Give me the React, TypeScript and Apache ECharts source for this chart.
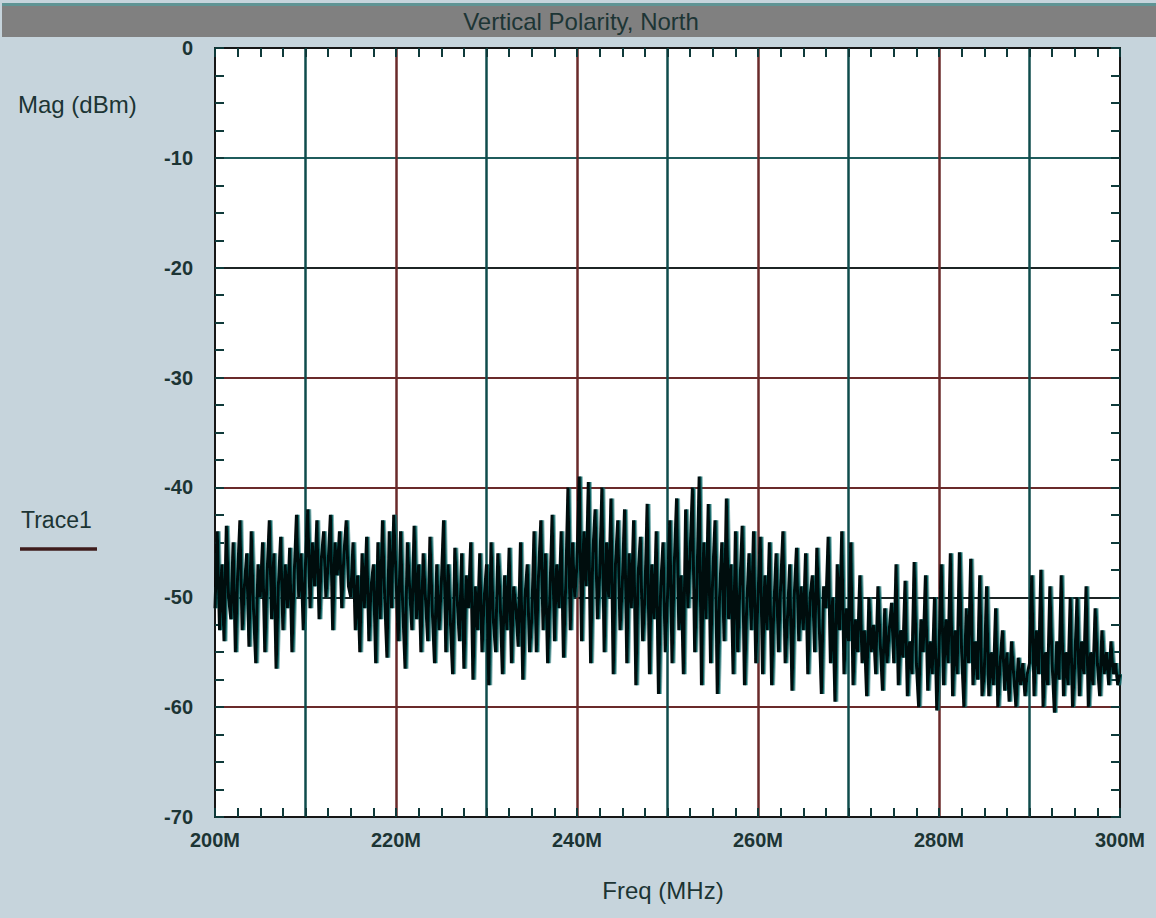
import React, { useEffect, useRef } from "react";
import * as echarts from "echarts";

const TITLE = "Vertical Polarity, North";
const Y_NAME = "Mag (dBm)";
const X_NAME = "Freq (MHz)";
const LEGEND_NAME = "Trace1";

// sweep: 200 MHz to 300 MHz, 0.25 MHz per sample
const SWEEP_START_MHZ = 200;
const SWEEP_STEP_MHZ = 0.25;

const trace1Dbm: number[] = [
  // 200-205
  -51, -44, -53, -47, -54, -43.5, -50, -52, -45, -55, -48, -43, -53, -49, -46, -54.5, -44, -51, -56, -47,
  // 205-210
  -50, -45, -55, -48, -43, -52, -46, -56.5, -49, -44.5, -53, -47, -51, -45.5, -55, -48, -42.5, -50, -46, -53,
  // 210-215
  -47, -42, -51, -45, -49, -43, -52, -46.5, -44, -50, -47, -42.5, -53, -45, -48, -44, -51, -46, -43, -49,
  // 215-220
  -50, -45, -53, -48, -55, -46, -51, -44.5, -54, -49, -47, -56, -45, -52, -43, -50, -55.5, -44, -51, -42.5,
  // 220-225
  -48, -54, -44, -51, -56.5, -45, -49, -53, -43.5, -52, -47, -55, -46, -50, -54, -44.5, -51, -56, -47, -53,
  // 225-230
  -49, -43, -55, -47, -52, -57, -45.5, -50, -54, -46, -56.5, -48, -51, -45, -57.5, -49, -53, -46, -55, -50,
  // 230-235
  -47, -58, -45, -52, -55, -46, -50, -57, -48, -53, -45.5, -56, -49, -51, -54.5, -45, -57.5, -50, -47, -55,
  // 235-240
  -52, -44, -55, -48, -43, -53, -46, -56, -50, -42.5, -54, -47, -51, -44, -55.5, -49, -40, -53, -45, -50,
  // 240-245
  -47, -39, -54, -44, -49, -39.5, -56, -46, -42, -52, -48, -40, -55, -45, -50, -41, -57, -47, -43, -53,
  // 245-250
  -49, -42, -56, -46, -51, -43, -58, -48, -44.5, -54, -50, -41.5, -57, -47, -52, -44, -58.8, -49, -45, -55,
  // 250-255
  -50, -43, -56, -47, -41, -53, -48, -57, -42, -51, -46, -40, -55, -49, -39, -58, -45, -52, -41.5, -56,
  // 255-260
  -48, -43, -58.8, -50, -45, -54, -41, -52, -47, -57, -44, -55, -49, -43.5, -58, -51, -46, -53, -44, -56,
  // 260-265
  -50, -44.5, -57, -48, -53, -45, -58, -51, -46, -55, -49, -44, -56, -52, -47, -58.5, -50, -45.5, -54, -49,
  // 265-270
  -53, -46, -57, -50, -48, -55, -45.5, -52, -58.8, -49, -51, -44.5, -56, -50, -59.5, -47, -53, -44, -57, -51,
  // 270-275
  -54, -45, -58, -52, -55, -48, -56, -53, -59, -50, -55, -52.5, -57, -49, -54, -58.5, -51, -56, -53, -50.5,
  // 275-280
  -56, -47, -58, -53, -55.5, -48.5, -59, -54, -57, -46.8, -56, -60, -52, -55, -48, -58.5, -54, -57, -50, -60.3,
  // 280-285
  -55, -47, -58, -52, -56, -46, -59, -53, -57, -45.9, -55, -60, -51, -56, -46.5, -58, -54, -57.5, -48, -59,
  // 285-290
  -57, -49, -59, -55, -58, -51, -60, -56, -53, -58.5, -55, -59.5, -54, -57, -60, -55.5, -58, -56, -59, -57,
  // 290-295
  -56, -48, -59, -53, -57, -47.5, -60, -55, -58, -49, -56, -60.5, -54, -57.5, -48, -59, -55, -58, -50, -60,
  // 295-300
  -56, -50, -59, -54, -57, -49, -60, -55, -58, -51, -56, -59, -53, -57, -55, -58, -54, -57, -56, -58,
  -57,
];

const X_MIN = 200;
const X_MAX = 300;
const X_INTERVAL = 10;
const Y_MIN = -70;
const Y_MAX = 0;
const Y_INTERVAL = 10;

const FONT = "'Liberation Sans', Arial, sans-serif";
const BG = "#c6d4dc";
const TEAL = "#0f4c4c";
const DARKRED = "#6a2a2a";
const DARK = "#1c2424";
const INK = "#1c3434";

export default function App() {
  const ref = useRef<HTMLDivElement>(null);

  useEffect(() => {
    if (!ref.current) return;
    const chart = echarts.init(ref.current, undefined, { renderer: "svg" });

    const points = trace1Dbm.map((v, i) => [SWEEP_START_MHZ + i * SWEEP_STEP_MHZ, v]);

    const tickStyle = { color: "#0f3a3a", width: 2 };

    const baseX = {
      type: "value" as const,
      min: X_MIN,
      max: X_MAX,
      interval: X_INTERVAL,
      axisLine: { show: true, onZero: false, lineStyle: { color: "#161616", width: 2 } },
      axisTick: { show: true, inside: true, length: 9, lineStyle: tickStyle },
      minorTick: { show: true, splitNumber: 4, length: 9, lineStyle: tickStyle },
    };
    const baseY = {
      type: "value" as const,
      min: Y_MIN,
      max: Y_MAX,
      interval: Y_INTERVAL,
      axisLine: { show: true, onZero: false, lineStyle: { color: "#161616", width: 2 } },
      axisTick: { show: true, inside: true, length: 9, lineStyle: tickStyle },
      minorTick: { show: true, splitNumber: 4, length: 9, lineStyle: tickStyle },
    };

    chart.setOption({
      animation: false,
      backgroundColor: BG,
      grid: {
        left: 215,
        right: 36,
        top: 48,
        bottom: 101,
        containLabel: false,
        show: true,
        backgroundColor: "#ffffff",
        borderWidth: 0,
      },
      xAxis: [
        {
          ...baseX,
          position: "bottom",
          axisLabel: {
            show: true,
            margin: 13,
            fontFamily: FONT,
            fontSize: 20,
            fontWeight: "bold",
            color: INK,
            formatter: (v: number) => (v % 20 === 0 ? `${v}M` : ""),
          },
          splitLine: {
            show: true,
            showMinLine: false,
            showMaxLine: false,
            lineStyle: { color: [TEAL, DARKRED], width: 2.5 },
          },
        },
        {
          ...baseX,
          position: "top",
          axisLabel: { show: false },
          splitLine: { show: false },
        },
      ],
      yAxis: [
        {
          ...baseY,
          position: "left",
          axisLabel: {
            show: true,
            margin: 22,
            fontFamily: FONT,
            fontSize: 20,
            fontWeight: "bold",
            color: INK,
          },
          splitLine: {
            show: true,
            showMinLine: false,
            showMaxLine: false,
            lineStyle: {
              color: [DARKRED, DARK, DARKRED, DARKRED, DARK, "#1f5c5c"],
              width: 2,
            },
          },
        },
        {
          ...baseY,
          position: "right",
          axisLabel: { show: false },
          splitLine: { show: false },
        },
      ],
      graphic: [
        {
          type: "rect",
          left: 2,
          top: 3,
          shape: { width: 1154, height: 3 },
          style: { fill: "#5f9494" },
          silent: true,
        },
        {
          type: "rect",
          left: 2,
          top: 6,
          shape: { width: 1154, height: 31 },
          style: { fill: "#808080" },
          silent: true,
        },
        {
          type: "text",
          x: 581,
          y: 21,
          style: {
            text: TITLE,
            fontFamily: FONT,
            fontSize: 24,
            fill: "#1d3535",
            align: "center",
            verticalAlign: "middle",
          },
        },
        {
          type: "text",
          x: 18,
          y: 104,
          style: {
            text: Y_NAME,
            fontFamily: FONT,
            fontSize: 24,
            fill: INK,
            align: "left",
            verticalAlign: "middle",
          },
        },
        {
          type: "text",
          x: 21,
          y: 520,
          style: {
            text: LEGEND_NAME,
            fontFamily: FONT,
            fontSize: 23,
            fill: INK,
            align: "left",
            verticalAlign: "middle",
          },
        },
        {
          type: "line",
          shape: { x1: 20, y1: 549, x2: 97, y2: 549 },
          style: { stroke: "#3e1c1c", lineWidth: 3.5 },
        },
        {
          type: "text",
          x: 663,
          y: 890,
          style: {
            text: X_NAME,
            fontFamily: FONT,
            fontSize: 24,
            fill: INK,
            align: "center",
            verticalAlign: "middle",
          },
        },
      ],
      series: [
        {
          name: LEGEND_NAME,
          type: "line",
          xAxisIndex: 0,
          yAxisIndex: 0,
          data: points,
          showSymbol: false,
          symbol: "none",
          lineStyle: {
            color: "#030808",
            width: 3,
            join: "miter",
            miterLimit: 2,
            shadowColor: "#0d6464",
            shadowOffsetX: 1.5,
            shadowBlur: 0,
          },
          z: 5,
        },
      ],
    });

    return () => {
      chart.dispose();
    };
  }, []);

  return (
    <div
      ref={ref}
      style={{ position: "absolute", left: 0, top: 0, width: 1156, height: 918 }}
    />
  );
}
